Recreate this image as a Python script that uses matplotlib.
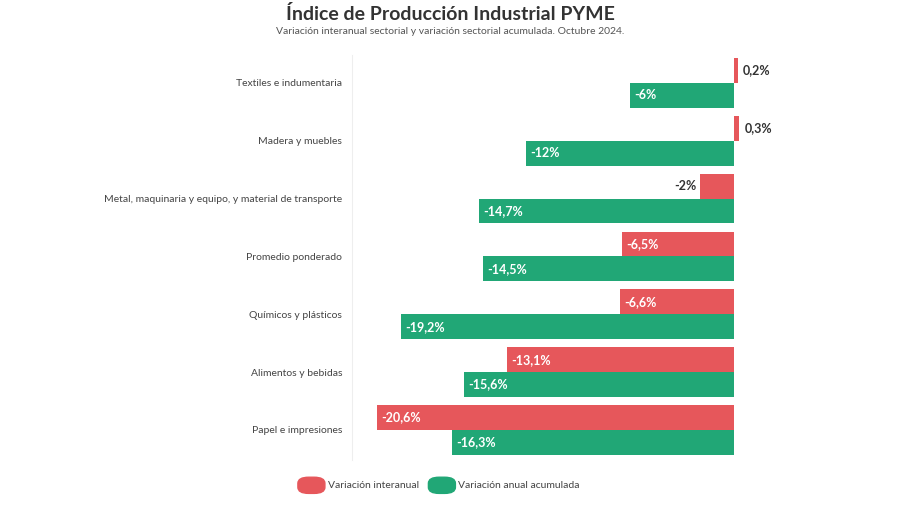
import matplotlib.pyplot as plt
from matplotlib.patches import FancyBboxPatch
import numpy as np

plt.rcParams['font.family'] = ['Lato', 'DejaVu Sans']

categorias = ['Textiles e indumentaria', 'Madera y muebles',
              'Metal, maquinaria y equipo, y material de transporte',
              'Promedio ponderado', 'Químicos y plásticos',
              'Alimentos y bebidas', 'Papel e impresiones']
interanual = [0.2, 0.3, -2.0, -6.5, -6.6, -13.1, -20.6]
acumulada = [-6.0, -12.0, -14.7, -14.5, -19.2, -15.6, -16.3]

rojo = '#e6575b'
verde = '#21a776'
texto = '#333333'

fig = plt.figure(figsize=(9, 5.05), dpi=100)
ax = fig.add_axes([0.391, 0.089, 0.50, 0.802])

y = np.arange(len(categorias))
h = 0.43
ax.barh(y - h / 2, interanual, height=h, color=rojo)
ax.barh(y + h / 2, acumulada, height=h, color=verde)


def fmt(v):
    s = ('%.1f' % v).replace('.', ',')
    if s.endswith(',0'):
        s = s[:-2]
    return s + '%'


def etiqueta(v, yy):
    if v > 0:
        ax.text(v + 0.3, yy, fmt(v), va='center', ha='left', fontsize=9,
                fontweight='bold', color=texto)
    elif v > -3:
        ax.text(v - 0.2, yy, fmt(v), va='center', ha='right', fontsize=9,
                fontweight='bold', color=texto)
    else:
        ax.text(v + 0.25, yy, fmt(v), va='center', ha='left', fontsize=9,
                fontweight='bold', color='white')


for i in range(len(categorias)):
    etiqueta(interanual[i], y[i] - h / 2)
    etiqueta(acumulada[i], y[i] + h / 2)

ax.set_xlim(-22.05, 3.9)
ax.set_ylim(6.52, -0.48)
ax.set_yticks(y)
ax.set_yticklabels(categorias, fontsize=7.5, color='#444444')
ax.tick_params(axis='y', length=0, pad=7)
ax.set_xticks([])
for s in ['top', 'right', 'bottom']:
    ax.spines[s].set_visible(False)
ax.spines['left'].set_color('#eeeeee')

fig.text(0.5, 0.972, 'Índice de Producción Industrial PYME', ha='center', va='center',
         fontsize=14, fontweight='bold', color=texto)
fig.text(0.5, 0.937, 'Variación interanual sectorial y variación sectorial acumulada. Octubre 2024.',
         ha='center', va='center', fontsize=7.5, color='#555555')

# leyenda
for x0, col, lab in [(0.331, rojo, 'Variación interanual'),
                     (0.476, verde, 'Variación anual acumulada')]:
    fig.patches.append(FancyBboxPatch((x0, 0.023), 0.030, 0.032,
                                      boxstyle='round,pad=0,rounding_size=0.012',
                                      transform=fig.transFigure, color=col))
    fig.text(x0 + 0.033, 0.039, lab, ha='left', va='center', fontsize=7.5, color='#444444')

fig.savefig('out.png', dpi=100, facecolor='white')
